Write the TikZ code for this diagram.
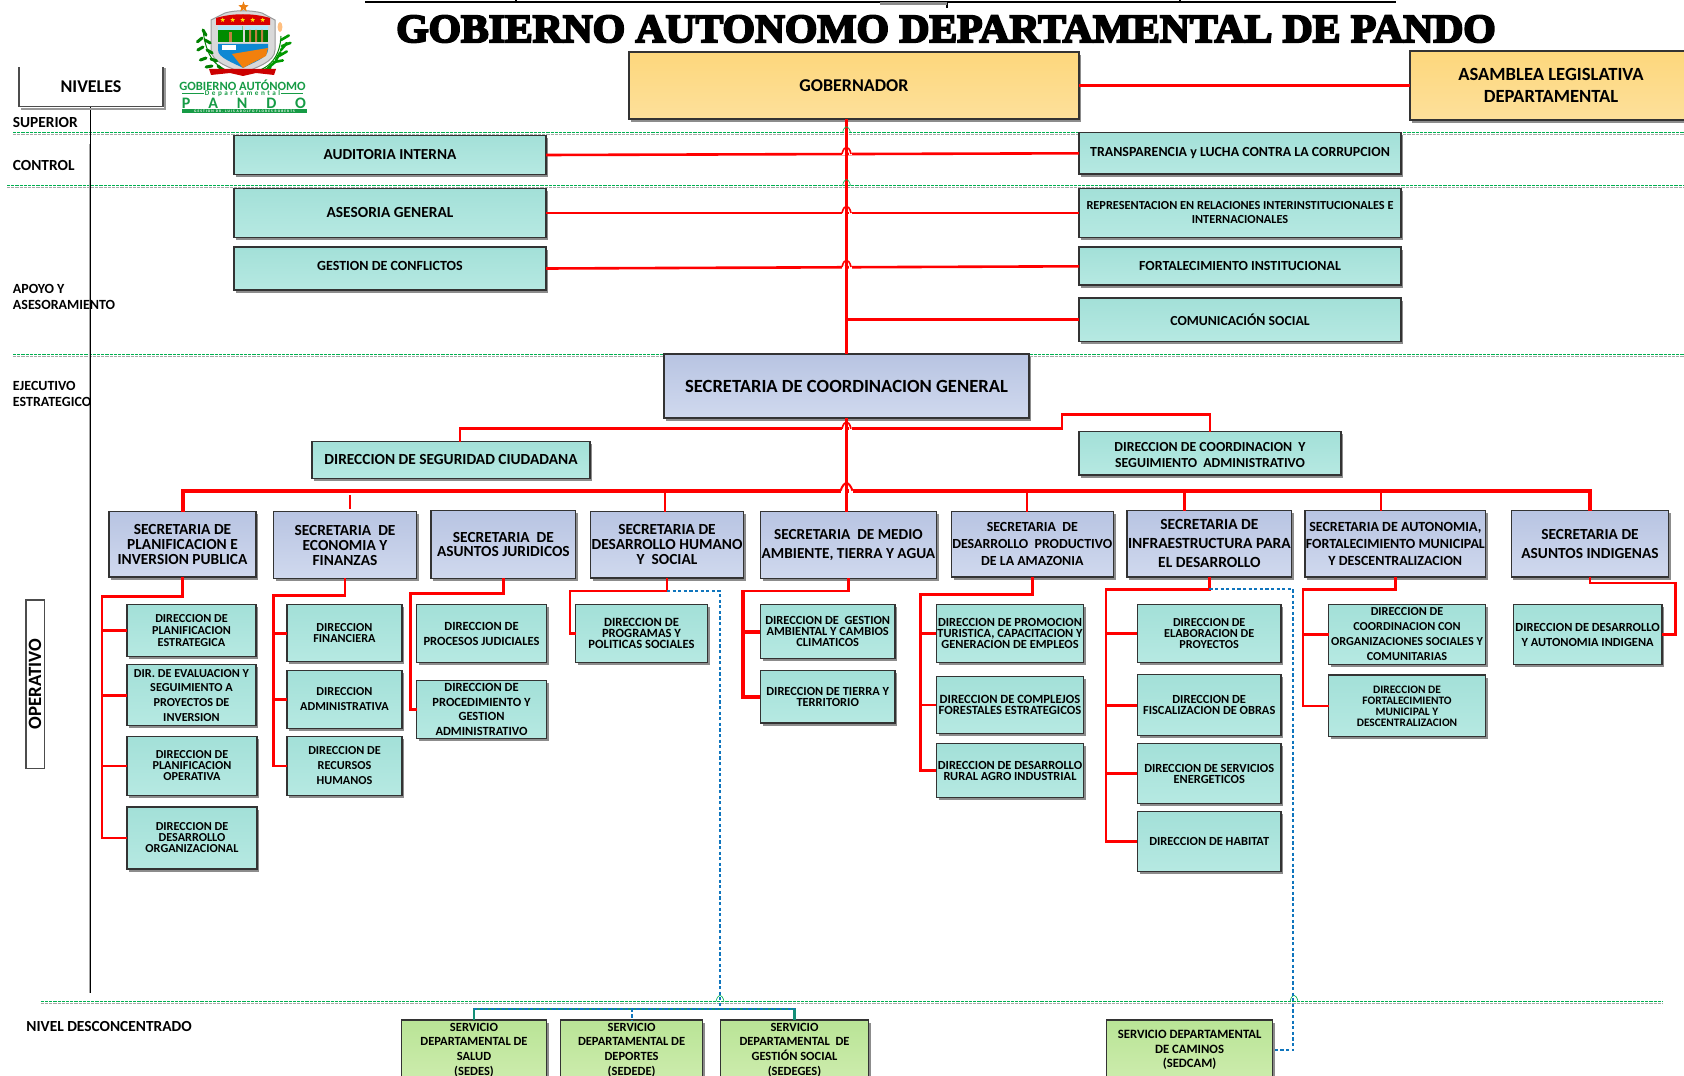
\documentclass[tikz,border=0pt]{standalone}
\usepackage{fontspec}
\setmainfont{Carlito}
\newfontfamily\titlefont{Liberation Serif}[BoldFeatures={FakeBold=5,FakeStretch=1.04}]
\usetikzlibrary{shadows,shapes.geometric}
\definecolor{dirtop}{HTML}{A3E0D8}
\definecolor{dirbot}{HTML}{B6E9E2}
\definecolor{sectop}{HTML}{B8C4E2}
\definecolor{secbot}{HTML}{D0D9EE}
\definecolor{govtop}{HTML}{FDD77C}
\definecolor{govbot}{HTML}{FDE09B}
\definecolor{srvtop}{HTML}{B9E496}
\definecolor{srvbot}{HTML}{CDECAD}
\definecolor{dotblue}{HTML}{0F75BD}
\definecolor{srvteal}{HTML}{148F77}
\definecolor{logogreen}{HTML}{169B45}
\definecolor{sepgreen}{HTML}{00B050}
\tikzset{
	wh/.style 2 args={minimum width=#1*0.5pt, minimum height=#2*0.5pt},
	fs/.style 2 args={font=\bfseries\fontsize{#1}{#2}\selectfont},
	orgbox/.style={draw=black!80, line width=0.6pt, inner sep=0pt, outer sep=0pt, align=center,
		drop shadow={shadow xshift=1.1pt, shadow yshift=-1.3pt, fill=black!45, opacity=1}},
	dirbox/.style={orgbox, top color=dirtop, bottom color=dirbot, fs={6.1}{5.5}},
	secbox/.style={orgbox, top color=sectop, bottom color=secbot, fs={7.7}{7.5}},
	govbox/.style={orgbox, top color=govtop, bottom color=govbot, fs={9.3}{11}},
	srvbox/.style={orgbox, top color=srvtop, bottom color=srvbot, fs={6.25}{7.3}},
	lvl/.style={anchor=west, align=left, inner sep=0pt, fs={7}{8}},
	redline/.style={draw=red, line width=1.3pt},
	redbus/.style={draw=red, line width=2pt},
	bluedot/.style={draw=dotblue, line width=0.9pt, dash pattern=on 1.6pt off 1.2pt},
	grnline/.style={draw=sepgreen, line width=0.35pt, dash pattern=on 1.6pt off 0.5pt},
	gryline/.style={draw=black!35, line width=0.35pt, dash pattern=on 1.6pt off 0.5pt},
	logostar/.style={star, star points=5, star point ratio=2.4, fill=#1, inner sep=0pt, minimum size=3.2pt},
}
\begin{document}
\begin{tikzpicture}[x=0.5pt,y=-0.5pt]
	\useasboundingbox (0,0) rectangle (1684,1075);
	% level separators
	\foreach \gx/\gy/\gend in {13/132.7/1684,7/185.5/1684,13/354.3/1684,40.7/1001.3/1663} {
		\draw[gryline] (\gx,\gy+1.8) -- (\gend,\gy+1.8);
		\draw[grnline] (\gx,\gy) -- (\gend,\gy);
	}
	\draw[black!35, line width=0.5pt] (89,144) -- (89,993);
	\draw[black, line width=0.45pt] (90.5,107) -- (90.5,993);

	% page frame remains at the top
	\draw[black, line width=0.6pt] (365,2) -- (1396,2);
	\draw[black, line width=0.6pt] (516,0) -- (516,2) (1180,0) -- (1180,2) (947,2) -- (947,8);
	\fill[black!45] (880,2.5) rectangle (947,5);

	% title
	\node[font=\titlefont\bfseries\fontsize{20}{20}\selectfont, inner sep=0pt] (title) at (946,29) {GOBIERNO AUTONOMO DEPARTAMENTAL DE PANDO};

	% logo
	\draw[black!40, fill=black!15, line width=0.5pt] (211,20) -- (225,13) .. controls (235,10) and (251,10) .. (262,13) -- (275,20) -- (275,50) .. controls (275,62) and (255,68) .. (243,73) .. controls (231,68) and (211,62) .. (211,50) -- cycle;
	\fill[red!85!black] (216,18) .. controls (232,13) and (254,13) .. (270,18) -- (270,25) -- (216,25) -- cycle;
	\fill[green!55!black] (218,26) rectangle (242.5,42);
	\fill[green!45!black] (245,26) rectangle (268,42);
	\fill[white!70!cyan] (218,26) rectangle (242.5,30) (245,26) rectangle (268,30);
	\fill[brown] (229,32) rectangle (232,42);
	\fill[brown] (249,30) rectangle (251,42) (255,30) rectangle (257,42) (261,30) rectangle (263,42);
	\fill[cyan!70!blue] (218,44) -- (268,44) -- (268,50) .. controls (268,58) and (252,63) .. (243,68) .. controls (234,63) and (218,58) .. (218,50) -- cycle;
	\fill[orange!80!brown] (232,54) -- (268,48) -- (266,56) .. controls (258,60) and (250,64) .. (243,68) -- cycle;
	\fill[white] (222,45) rectangle (236,50);
	\foreach \i/\sx in {1/222.7,2/232.7,3/242.7,4/252.7,5/262.7} {
		\node[logostar=yellow!90!orange, minimum size=2.4pt] (band\i) at (\sx,20) {};
	}
	\node[logostar=orange!70!brown, minimum size=5.5pt] (topstar) at (243.5,7) {};
	\draw[green!50!black, line width=0.5pt] (240,74) .. controls (214,70) and (206,55) .. (203,30);
	\draw[green!50!black, line width=0.5pt] (246,74) .. controls (272,70) and (280,55) .. (281,36);
	\foreach \lx/\ly/\la in {203/30/60,202/38/140,205/40/30,203/47/150,207/50/30,206/58/160,211/59/20,212/66/170,218/66/40,224/71/170} {
		\draw[green!50!black, line width=1.5pt, line cap=round] (\lx,\ly) -- ++(\la:6);
	}
	\foreach \lx/\ly/\la in {281/40/-30,282/46/-20,281/50/-50,279/56/-30,276/60/-60,274/62/-10,268/68/-40,262/71/-20} {
		\draw[green!60!black, line width=1.3pt, line cap=round] (\lx,\ly) -- ++(\la:9);
	}
	\fill[orange!50!white] (280,27) ellipse (2.4 and 5);
	\fill[red!80!black] (209,69) -- (276,69) -- (274,75) -- (256,73) -- (243,76) -- (230,73) -- (211,75) -- cycle;
	\node[text=logogreen, inner sep=0pt, fs={6.3}{6.3}] (logotop) at (242.5,85) {GOBIERNO AUT\'ONOMO};
	\node[text=logogreen, inner sep=0pt, font=\bfseries\fontsize{3.6}{3.6}\selectfont\addfontfeature{LetterSpace=35}] (logodep) at (242.5,93.5) {Departamental};
	\draw[logogreen, line width=0.4pt] (182,93.5) -- (204,93.5) (281,93.5) -- (303,93.5);
	\node[text=logogreen, inner sep=0pt, font=\bfseries\fontsize{8}{8}\selectfont\addfontfeature{LetterSpace=118}] (logopando) at (244,103) {PANDO};
	\fill[logogreen] (182,109) rectangle (307,113);
	\node[text=white, inner sep=0pt, font=\bfseries\fontsize{1.8}{1.8}\selectfont\addfontfeature{LetterSpace=30}] (logogest) at (244.5,111) {GESTION DR. LUIS ADOLFO FLORES ROBERTS};

	% levels column
	\node[wh={144}{39}, inner sep=0pt, outer sep=0pt, fs={9}{8}] (niveles) at (91,87) {NIVELES};
	\draw[black!40, line width=1pt] (165,68) -- (165,109) -- (21,109);
	\draw[black!70, line width=0.6pt] (niveles.north west) |- (niveles.south east) -- (niveles.north east);
	\node[lvl, fs={7.7}{8}] (superior) at (12.5,123) {SUPERIOR};
	\node[lvl, fs={7.7}{8}] (control) at (12.5,166) {CONTROL};
	\node[lvl] (apoyo) at (12.5,296.7) {APOYO Y\\ASESORAMIENTO};
	\node[lvl] (ejecutivo) at (12.5,393.7) {EJECUTIVO\\ESTRATEGICO};
	\node[lvl, fs={7.7}{8}] (desconc) at (26,1026) {NIVEL DESCONCENTRADO};
	\node[draw=black!70, line width=0.6pt, fill=white, wh={18.3}{168.3}, inner sep=0pt, outer sep=0pt] (operbox) at (35.1,684.2) {};
	\node[rotate=90, inner sep=0pt, fs={9.4}{8}] (operativo) at (operbox) {OPERATIVO};

	% top of the chart
	\node[govbox, wh={450}{67}, fs={9}{10}] (gob) at (854,85.5) {GOBERNADOR};
	\node[govbox, wh={282}{69}] (asamblea) at (1551,85.5) {ASAMBLEA LEGISLATIVA\\DEPARTAMENTAL};
	\node[dirbox, wh={312}{38.5}, fs={7.65}{8}] (audit) at (390,155) {AUDITORIA INTERNA};
	\node[dirbox, wh={312}{48.5}, fs={7.7}{8}] (asesoria) at (390,213) {ASESORIA GENERAL};
	\node[dirbox, wh={312}{43}, fs={7}{8}, line width=1pt, text depth=3pt] (gestion) at (390,268.5) {GESTION DE CONFLICTOS};
	\node[dirbox, wh={322}{41.5}, fs={6.95}{8}] (transp) at (1240,153.3) {TRANSPARENCIA y LUCHA CONTRA LA CORRUPCION};
	\node[dirbox, wh={322}{48.6}, fs={6.15}{7}] (repre) at (1240,213) {REPRESENTACION EN RELACIONES INTERINSTITUCIONALES E\\INTERNACIONALES};
	\node[dirbox, wh={322}{38}, fs={6.95}{8}, line width=1pt] (fortinst) at (1240,266.3) {FORTALECIMIENTO INSTITUCIONAL};
	\node[dirbox, wh={322}{43.3}, fs={6.9}{8}] (comun) at (1240,319.7) {COMUNICACI\'ON SOCIAL};
	\node[secbox, wh={365}{64}, fs={9.3}{9}] (coord) at (846.5,386) {SECRETARIA DE COORDINACION GENERAL};
	\node[dirbox, wh={278}{36.6}, fs={7.7}{8}] (segur) at (451,460) {DIRECCION DE SEGURIDAD CIUDADANA};
	\node[dirbox, wh={262}{43.3}, fs={6.9}{8}] (coordadm) at (1210,453.3) {\mbox{}\\[-1.6pt]DIRECCION DE COORDINACION\ \ Y\\SEGUIMIENTO\ \ ADMINISTRATIVO};

	% secretarias
	\node[secbox, wh={147}{65.3}] (sec1) at (182.5,544.3) {SECRETARIA DE\\PLANIFICACION E\\INVERSION PUBLICA};
	\node[secbox, wh={143}{66.6}] (sec2) at (345,545) {SECRETARIA\ \ DE\\ECONOMIA Y\\FINANZAS};
	\node[secbox, wh={144.7}{67.6}, fs={7.7}{6.9}] (sec3) at (503.4,544.5) {SECRETARIA\ \ DE\\ASUNTOS JURIDICOS};
	\node[secbox, wh={153}{66.3}] (sec4) at (667,544.8) {SECRETARIA DE\\DESARROLLO HUMANO\\Y\ \ SOCIAL};
	\node[secbox, wh={176}{66.6}, fs={7.65}{9.5}] (sec5) at (848.4,545) {SECRETARIA\ \ DE MEDIO\\AMBIENTE, TIERRA Y AGUA};
	\node[secbox, wh={162}{65.3}, fs={6.95}{8.5}] (sec6) at (1032.3,544.3) {SECRETARIA\ \ DE\\DESARROLLO\ \ PRODUCTIVO\\DE LA AMAZONIA};
	\node[secbox, wh={164.8}{66.3}, fs={7.75}{9.5}] (sec7) at (1209.4,543.8) {SECRETARIA DE\\INFRAESTRUCTURA PARA\\EL DESARROLLO};
	\node[secbox, wh={180.6}{66.3}, fs={7}{8.5}] (sec8) at (1395.3,543.8) {SECRETARIA DE AUTONOMIA,\\FORTALECIMIENTO MUNICIPAL\\Y DESCENTRALIZACION};
	\node[secbox, wh={157.7}{66.3}, fs={7.7}{9.5}] (sec9) at (1590,543.8) {SECRETARIA DE\\ASUNTOS INDIGENAS};

	% direcciones
	\node[dirbox, wh={129}{51.6}, fs={6.1}{6.1}] (d11) at (191.5,630.5) {DIRECCION DE\\PLANIFICACION\\ESTRATEGICA};
	\node[dirbox, wh={129}{61}, fs={6.1}{7.3}] (d12) at (191.5,695.2) {DIR. DE EVALUACION Y\\SEGUIMIENTO A\\PROYECTOS DE\\INVERSION};
	\node[dirbox, wh={130}{58.6}] (d13) at (192,766) {DIRECCION DE\\PLANIFICACION\\OPERATIVA};
	\node[dirbox, wh={130}{62}] (d14) at (192,838) {DIRECCION DE\\DESARROLLO\\ORGANIZACIONAL};
	\node[dirbox, wh={115}{57}] (d21) at (344.5,633.2) {DIRECCION\\FINANCIERA};
	\node[dirbox, wh={115}{58.4}, fs={6.1}{7.5}] (d22) at (344.5,699.5) {DIRECCION\\ADMINISTRATIVA};
	\node[dirbox, wh={115}{58.6}, fs={6.1}{7.5}] (d23) at (344.5,766) {DIRECCION DE\\RECURSOS\\HUMANOS};
	\node[dirbox, wh={130}{57.6}, fs={6.25}{7.5}] (d31) at (481.5,633.5) {DIRECCION DE\\PROCESOS JUDICIALES};
	\node[dirbox, wh={130}{57.6}, fs={6.25}{7.4}] (d32) at (481.5,709.5) {DIRECCION DE\\PROCEDIMIENTO Y\\GESTION\\ADMINISTRATIVO};
	\node[dirbox, wh={131.6}{57.6}, fs={6.3}{5.5}] (d41) at (641.5,633.5) {DIRECCION DE\\PROGRAMAS Y\\POLITICAS SOCIALES};
	\node[dirbox, wh={134.6}{54}, fs={6.2}{5.5}] (d51) at (827.7,631.7) {DIRECCION DE\ \ GESTION\\AMBIENTAL Y CAMBIOS\\CLIMATICOS};
	\node[dirbox, wh={134.6}{52.7}, fs={6.2}{5.5}] (d52) at (827.7,696.6) {DIRECCION DE TIERRA Y\\TERRITORIO};
	\node[dirbox, wh={147.2}{57.6}, fs={6.2}{5.5}] (d61) at (1010,633.5) {DIRECCION DE PROMOCION\\TURISTICA, CAPACITACION Y\\GENERACION DE EMPLEOS};
	\node[dirbox, wh={147.2}{57}, fs={6.3}{5.5}] (d62) at (1010,704.8) {DIRECCION DE COMPLEJOS\\FORESTALES ESTRATEGICOS};
	\node[dirbox, wh={147.2}{54}, fs={6.2}{5.5}] (d63) at (1010,770.7) {DIRECCION DE DESARROLLO\\RURAL AGRO INDUSTRIAL};
	\node[dirbox, wh={143.6}{57.6}] (d71) at (1209.2,633.5) {DIRECCION DE\\ELABORACION DE\\PROYECTOS};
	\node[dirbox, wh={143.6}{61}, fs={6.2}{5.5}] (d72) at (1209.2,705.2) {DIRECCION DE\\FISCALIZACION DE OBRAS};
	\node[dirbox, wh={143.6}{59.6}, fs={6.2}{5.5}] (d73) at (1209.2,773.5) {DIRECCION DE SERVICIOS\\ENERGETICOS};
	\node[dirbox, wh={143.6}{59.6}, fs={6.2}{5.5}] (d74) at (1209.2,841.5) {DIRECCION DE HABITAT};
	\node[dirbox, wh={157}{59.6}, fs={6.1}{7.5}] (d81) at (1407,634.5) {DIRECCION DE\\COORDINACION CON\\ORGANIZACIONES SOCIALES Y\\COMUNITARIAS};
	\node[dirbox, wh={157}{61.7}, fs={5.7}{5.5}] (d82) at (1407,705.8) {DIRECCION DE\\FORTALECIMIENTO\\MUNICIPAL Y\\DESCENTRALIZACION};
	\node[dirbox, wh={148.7}{59.6}, fs={6.2}{7.5}] (d91) at (1587.6,634.5) {DIRECCION DE DESARROLLO\\Y AUTONOMIA INDIGENA};

	% servicios
	\node[srvbox, wh={144.7}{60}] (sedes) at (474,1050) {SERVICIO\\DEPARTAMENTAL DE\\SALUD\\(SEDES)};
	\node[srvbox, wh={142.2}{60}] (sedede) at (631.6,1050) {SERVICIO\\DEPARTAMENTAL DE\\DEPORTES\\(SEDEDE)};
	\node[srvbox, wh={148}{60}] (sedeges) at (794.5,1050) {SERVICIO\\DEPARTAMENTAL\ \ DE\\GESTI\'ON SOCIAL\\(SEDEGES)};
	\node[srvbox, wh={166.4}{60}, fs={6.35}{7.3}] (sedcam) at (1189.6,1050) {SERVICIO DEPARTAMENTAL\\DE CAMINOS\\(SEDCAM)};

	% red connectors
	\draw[redline, line width=1.5pt] (gob.east) -- (asamblea.west);
	\draw[redline] (coord.north |- gob.south) -- (coord.north);
	\draw[redline] (audit.east) -- (transp.west);
	\draw[redline] (asesoria.east) -- (repre.west);
	\draw[redline] (gestion.east) -- (fortinst.west);
	\draw[redline] (coord.north |- comun.west) -- (comun.west);
	\coordinate (bus) at (846.5,490.7);
	\coordinate (gen1) at (460,428.7);
	\coordinate (gen2) at (1062,428.7);
	\coordinate (gen3) at (1062,414.7);
	\draw[redline] (gen1 |- segur.north) -- (gen1) -- (gen2) -- (gen3) -| (coordadm.north);
	\draw[redbus] (sec1.north) |- (bus) -| (sec9.north);
	\draw[redline] (coord.south) -- (coord.south |- sec5.north);
	\foreach \n/\dx in {sec4/665,sec6/1027,sec7/1184.6,sec8/1381} {
		\coordinate (drop) at (\dx,490.7);
		\draw[redline] (drop) -- (drop |- \n.north);
	}
	\coordinate (stub) at (350,495);
	\draw[redline, shorten >=1.5pt] (stub) -- (stub |- sec2.north);
	% line jumps over the spine
	\foreach \hy in {154,213,267,428.7} {
		\draw[white, line width=1.5pt] (841.5,\hy) -- (844.5,\hy) (848.5,\hy) -- (851.5,\hy);
		\draw[red, line width=0.8pt] (842,\hy) .. controls (844,\hy-9) and (849,\hy-9) .. (851,\hy);
	}
	\draw[white, line width=2.2pt] (840.5,490.7) -- (844.5,490.7) (848.5,490.7) -- (852.5,490.7);
	\draw[red, line width=1pt] (840.5,490.7) .. controls (844,480.7) and (849,480.7) .. (852.5,490.7);
	\foreach \hx/\hy in {846.5/132.7,846.5/185.5,720/1001.3,1294/1001.3} {
		\draw[sepgreen, line width=0.3pt] (\hx-4,\hy) .. controls (\hx-2,\hy-8) and (\hx+2,\hy-8) .. (\hx+4,\hy);
	}

	% trunks of the secretarias
	\coordinate (t1) at (102,596.7);
	\coordinate (t2) at (273.7,595.3);
	\coordinate (t3) at (410.4,593.3);
	\coordinate (t4) at (570,591);
	\coordinate (t5) at (742.6,591);
	\coordinate (t6) at (920.5,594.3);
	\coordinate (t7) at (1106,589.3);
	\coordinate (t8) at (1303,589.3);
	\coordinate (t9) at (1675.4,583);
	\draw[redline] (sec1.south) |- (t1) |- (d14.west);
	\foreach \d in {d11,d12,d13} {\draw[redline] (t1 |- \d.west) -- (\d.west);}
	\draw[redline] (sec2.south) |- (t2) |- (d23.west);
	\foreach \d in {d21,d22} {\draw[redline] (t2 |- \d.west) -- (\d.west);}
	\draw[redline] (sec3.south) |- (t3) |- (d32.west);
	\draw[redline] (sec4.south) |- (t4) |- (d41.west);
	\draw[redline] (sec5.south) |- (t5) |- (d52.west);
	\draw[redline, line width=2pt] (t5) |- (d52.west);
	\draw[redline, line width=2pt] (t5 |- d51.west) -- (d51.west);
	\draw[redline] (sec6.south) |- (t6) |- (d63.west);
	\foreach \d in {d61,d62} {\draw[redline] (t6 |- \d.west) -- (\d.west);}
	\draw[redline] (sec7.south) |- (t7) |- (d74.west);
	\foreach \d in {d71,d72,d73} {\draw[redline] (t7 |- \d.west) -- (\d.west);}
	\draw[redline] (sec8.south) |- (t8) |- (d82.west);
	\draw[redline] (t8 |- d81.west) -- (d81.west);
	\draw[redline] (sec9.south) |- (t9) |- (d91.east);

	% dotted links to the servicios
	\coordinate (v4) at (720,591);
	\coordinate (v4end) at (720,1008.7);
	\coordinate (v7) at (1293.3,589.3);
	\draw[srvteal, line width=1.2pt] (sedes.north) |- (v4end) -| (sedeges.north);
	\draw[bluedot] (sec4.south |- v4) -- (v4) -- (v4end);
	\draw[bluedot] (sedes.north |- v4end) -- (sedeges.north |- v4end);
	\draw[bluedot] (sedede.north |- v4end) -- (sedede.north);
	\draw[bluedot] (sec7.south |- v7) -- (v7) -- (v7 |- sedcam.east) -- (sedcam.east);
\end{tikzpicture}
\end{document}
